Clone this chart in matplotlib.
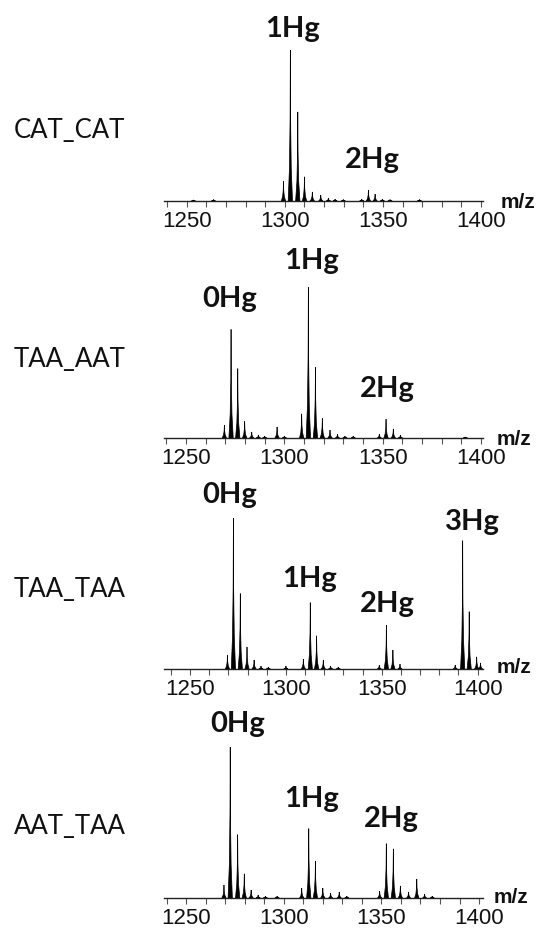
import matplotlib
matplotlib.use("Agg")
import matplotlib.pyplot as plt

W, H = 538, 929

samples = ["CAT_CAT", "TAA_AAT", "TAA_TAA", "AAT_TAA"]

# peak lists: (m/z, relative intensity %)
mz1 = [1253.4, 1263.6, 1299.3, 1302.8, 1306.6, 1310.0, 1314.0, 1318.3, 1322.2, 1325.6, 1329.8,
       1339.2, 1342.6, 1346.0, 1349.7, 1353.6, 1368.6]
in1 = [0.7, 1.0, 13, 100, 59, 16, 6, 4, 2, 1.3, 1.0,
       1.3, 7.3, 4.6, 1.3, 1.0, 1.0]

mz2 = [1269.5, 1272.9, 1276.3, 1279.8, 1283.4, 1286.8, 1290.0, 1296.3, 1300.0,
       1308.8, 1312.2, 1315.8, 1319.3, 1323.2, 1327.0, 1330.8, 1335.0,
       1348.3, 1351.7, 1355.4, 1359.0, 1392.0]
in2 = [8.6, 72, 46, 11, 4, 2, 1.3, 7.3, 1.3,
       16, 100, 47, 13, 5.3, 2.6, 1.3, 1.3,
       2.6, 12.5, 6, 2, 0.7]

mz3 = [1269.5, 1272.6, 1276.2, 1279.7, 1283.4, 1287.0, 1290.8, 1300.0,
       1309.1, 1312.7, 1316.0, 1319.5, 1323.3, 1327.3,
       1348.7, 1352.4, 1355.8, 1359.5,
       1388.3, 1392.2, 1395.6, 1399.5, 1401.5]
in3 = [9.3, 100, 50, 14.6, 6, 2, 1.3, 2,
       6.6, 44, 22, 6, 2, 1.3,
       2.6, 29, 12.6, 3.3,
       2.6, 85, 38, 8, 4]

mz4 = [1269.4, 1272.6, 1276.4, 1279.8, 1283.3, 1286.9, 1290.6, 1296.6,
       1309.2, 1312.8, 1316.2, 1320.0, 1324.0, 1328.4, 1332.3,
       1349.1, 1352.5, 1356.1, 1359.7, 1363.9, 1368.1, 1372.1, 1376.0]
in4 = [8.6, 100, 42, 16, 5.3, 2, 1.3, 1.3,
       6.6, 46, 24.5, 6.6, 3.3, 4, 1.3,
       4.6, 36, 32.5, 8, 4, 12.6, 2.6, 1.3]

peaks = [(mz1, in1), (mz2, in2), (mz3, in3), (mz4, in4)]
xlims = [(1238.4, 1401.0), (1238.8, 1401.0), (1236.4, 1402.8), (1238.7, 1402.0)]
baselines = [202, 439, 670, 899]

hg_labels = [
    [("1Hg", 293, 36.7), ("2Hg", 372, 167.7)],
    [("0Hg", 230, 306.7), ("1Hg", 312, 269.3), ("2Hg", 387, 396.7)],
    [("0Hg", 230, 503.3), ("1Hg", 310, 586.7), ("2Hg", 387, 611.7), ("3Hg", 472, 530)],
    [("0Hg", 238, 731.7), ("1Hg", 312, 806.7), ("2Hg", 391, 826.7)],
]
mz_label_pos = [(501, 208), (497, 445), (497, 673), (494, 903)]
sample_pos = [(14, 130), (14, 360), (14, 590), (14, 826)]

tick_major = [1250, 1300, 1350, 1400]
tick_all = list(range(1240, 1401, 10))

fig = plt.figure(figsize=(W / 100, H / 100), dpi=100)

AX_H = 190
px_per_unit = 1.51
for i in range(4):
    b = baselines[i]
    ax = fig.add_axes([164 / W, (H - b) / H, (483 - 164) / W, AX_H / H])
    mz, it = peaks[i]
    w = 1.1
    for c, h in zip(mz, it):
        ax.fill([c - w, c - 0.45, c - 0.12, c, c + 0.12, c + 0.45, c + w],
                [0, h * 0.22, h * 0.55, h, h * 0.55, h * 0.22, 0],
                color="black", lw=0.5)
    ax.set_xlim(*xlims[i])
    ax.set_ylim(0, AX_H / px_per_unit)
    for s in ["left", "top", "right"]:
        ax.spines[s].set_visible(False)
    ax.spines["bottom"].set_color("#222222")
    ax.spines["bottom"].set_linewidth(1.0)
    ax.set_yticks([])
    ax.set_xticks(tick_all)
    ax.set_xticklabels([str(t) if t in tick_major else "" for t in tick_all],
                       fontfamily="Liberation Sans", fontsize=16)
    ax.tick_params(axis="x", direction="out", length=4.5, width=0.8, color="#555555",
                   pad=2, labelcolor="#111111")
    ax.patch.set_alpha(0)

def fx(x):
    return x / W

def fy(y):
    return 1 - y / H

for i in range(4):
    for txt, x, y in hg_labels[i]:
        fig.text(fx(x), fy(y), txt, ha="center", va="baseline", fontfamily="Lato",
                 fontweight="bold", fontsize=21, color="#111111")
    mx, my = mz_label_pos[i]
    fig.text(fx(mx), fy(my), "m/z", ha="left", va="baseline", fontfamily="Liberation Sans",
             fontweight="bold", fontsize=15, color="#111111")
    sx, sy = sample_pos[i]
    fig.text(fx(sx), fy(sy), samples[i], ha="left", va="center", fontfamily="Lato",
             fontsize=18.5, color="#111111")

fig.savefig("out.png", dpi=100)
